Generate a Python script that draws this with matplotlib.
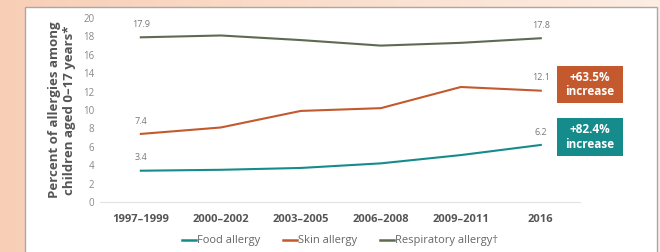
import matplotlib
matplotlib.use('Agg')
import matplotlib.pyplot as plt
import matplotlib.patches as mpatches
import numpy as np

plt.rcParams['font.family'] = ['Open Sans', 'DejaVu Sans']

##############################
# DATA
##############################
periods = ['1997–1999', '2000–2002', '2003–2005', '2006–2008', '2009–2011', '2016']
food = [3.4, 3.5, 3.7, 4.2, 5.1, 6.2]
skin = [7.4, 8.1, 9.9, 10.2, 12.5, 12.1]
resp = [17.9, 18.1, 17.6, 17.0, 17.3, 17.8]
seriesNames = ['Food allergy', 'Skin allergy', 'Respiratory allergy†']
boxTexts = ['+63.5%\nincrease', '+82.4%\nincrease']

foodColor = '#168b8c'
skinColor = '#c4592d'
respColor = '#5d6b52'

W, H = 660, 252
fig = plt.figure(figsize=(6.6, 2.52), dpi=100)

# peach gradient background
bg = fig.add_axes([0, 0, 1, 1], zorder=-2)
grad = np.linspace(0, 1, 256).reshape(1, -1)
c0 = np.array([0xf8, 0xcf, 0xb6]) / 255
c1 = np.array([0xfd, 0xed, 0xe2]) / 255
img = c0[None, None, :] * (1 - grad[..., None]) + c1[None, None, :] * grad[..., None]
bg.imshow(img, aspect='auto', extent=[0, 1, 0, 1])
bg.set_axis_off()

# white panel
panel = mpatches.Rectangle((25 / W, -0.05), 632 / W, 1.05 - 7 / H,
                           transform=fig.transFigure, facecolor='white',
                           edgecolor='#a8a8a8', linewidth=1.0, zorder=-1)
fig.patches.append(panel)

ax = fig.add_axes([100 / W, 50 / H, 480 / W, 184 / H])
ax.set_facecolor('none')
x = np.arange(len(periods))

ax.plot(x, food, color=foodColor, linewidth=1.5, label=seriesNames[0])
ax.plot(x, skin, color=skinColor, linewidth=1.5, label=seriesNames[1])
ax.plot(x, resp, color=respColor, linewidth=1.5, label=seriesNames[2])

# end point labels
for vals in [food, skin, resp]:
    for i in [0, len(vals) - 1]:
        ax.annotate(f'{vals[i]:.1f}', (x[i], vals[i]), xytext=(0, 6),
                    textcoords='offset points', ha='center', va='bottom',
                    fontsize=6.5, color='#777777')

ax.set_xlim(-0.51, 5.49)
ax.set_ylim(0, 20)
ax.set_yticks(range(0, 21, 2))
ax.set_xticks(x)
ax.set_xticklabels(periods, fontsize=8, fontweight='bold', color='#555555')
ax.tick_params(axis='x', length=0, pad=9)
ax.tick_params(axis='y', length=0, labelsize=7, labelcolor='#888888', pad=4)
for s in ['top', 'right', 'left']:
    ax.spines[s].set_visible(False)
ax.spines['bottom'].set_color('#e2e2e2')
ax.set_ylabel('Percent of allergies among\nchildren aged 0–17 years*', fontsize=9.5,
              fontweight='bold', color='#555555', labelpad=5, linespacing=1.2)

# increase boxes
boxes = [(557, 66, 66, 37, skinColor), (557, 118, 66, 38, foodColor)]
for (bx, by, bw, bh, col), txt in zip(boxes, boxTexts):
    fig.patches.append(mpatches.Rectangle((bx / W, 1 - (by + bh) / H), bw / W, bh / H,
                                          transform=fig.transFigure, facecolor=col,
                                          edgecolor='none'))
    fig.text((bx + bw / 2) / W, 1 - (by + bh / 2) / H, txt, ha='center', va='center',
             color='white', fontsize=8.5, fontweight='bold', linespacing=1.15)

leg = fig.legend(loc='center', bbox_to_anchor=(340 / W, 1 - 241 / H), ncol=3,
                 frameon=False, fontsize=8, handlelength=1.3, handletextpad=0.1,
                 columnspacing=2.0, labelcolor='#666666')
for line in leg.get_lines():
    line.set_linewidth(1.8)

plt.savefig('out.png', dpi=100)
plt.close()
